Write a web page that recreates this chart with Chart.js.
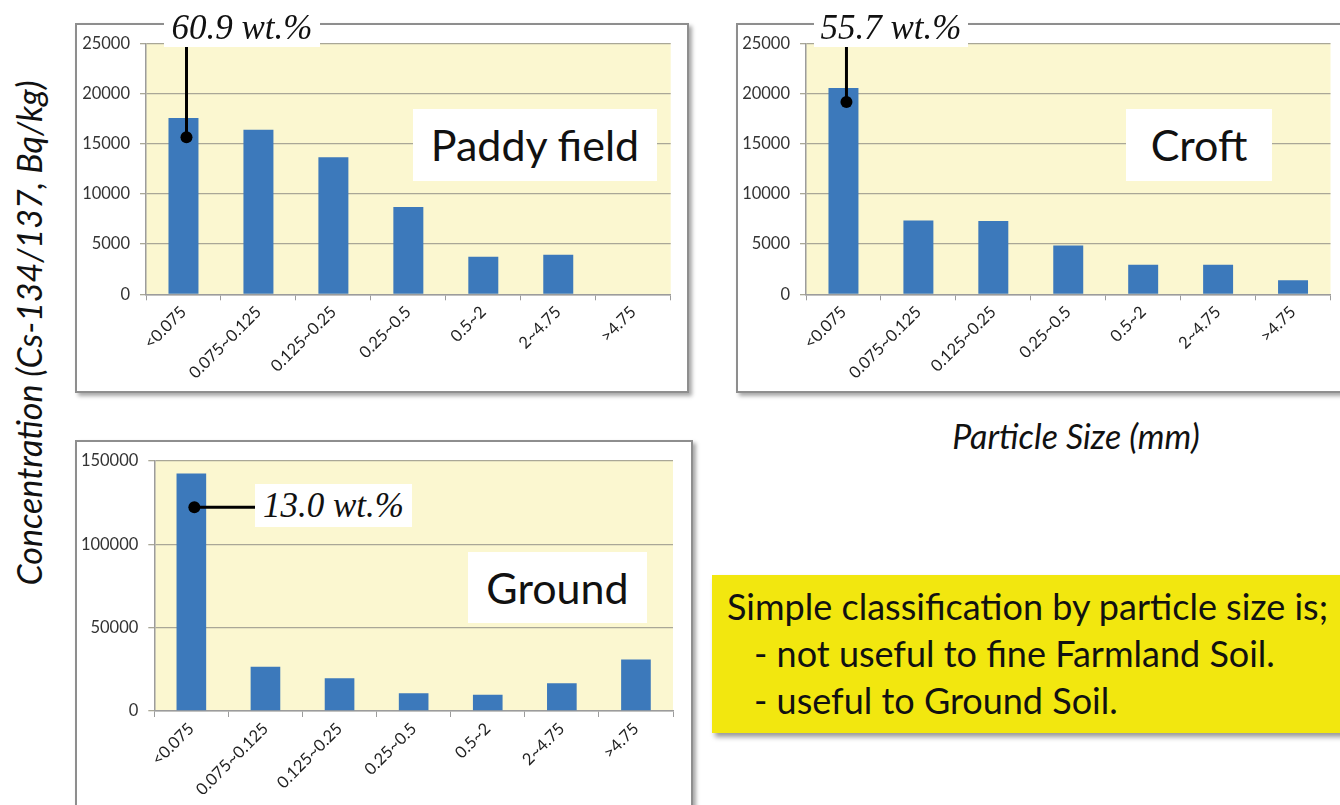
<!DOCTYPE html>
<html>
<head>
<meta charset="utf-8">
<script src="https://cdn.jsdelivr.net/npm/chart.js@4.4.1/dist/chart.umd.min.js"></script>
<style>
    body { margin: 0; background: #fff; }
    #page { position: relative; width: 1340px; height: 805px; overflow: hidden; background: #fff; font-family: Lato, sans-serif; }
    .frame { position: absolute; border: 2px solid #8e8e8e; box-shadow: 3px 3px 4px rgba(0,0,0,0.35); background: #fff; box-sizing: border-box; }
    canvas { position: absolute; }
    .tag { position: absolute; background: #fff; font-size: 43px; color: #111; text-align: center; height: 72px; line-height: 72px; }
    .wt { position: absolute; background: #fff; font-family: "Liberation Serif", serif; font-style: italic; font-size: 35px; color: #111; text-align: center; line-height: 38px; }
    #ytitle { position: absolute; left: 28px; top: 333px; transform: translate(-50%, -50%) rotate(-90deg); white-space: nowrap; font-style: italic; font-size: 34px; color: #111; }
    #xtitle { position: absolute; left: 1076px; top: 435px; transform: translate(-50%, -50%); white-space: nowrap; font-style: italic; font-size: 34px; color: #111; }
    #note { position: absolute; left: 712px; top: 575px; width: 660px; height: 158px; background: #f2e70f; box-shadow: 3px 4px 5px rgba(0,0,0,0.4); font-size: 36px; line-height: 47px; color: #111; padding: 8px 0 0 15px; box-sizing: border-box; white-space: nowrap; }
    #note .ind { padding-left: 27px; }
</style>
</head>
<body>
<div id="page">
    <div class="frame" style="left:75px;top:23px;width:614px;height:370px;"></div>
    <div class="frame" style="left:736px;top:23px;width:640px;height:370px;"></div>
    <div class="frame" style="left:75px;top:440px;width:618px;height:420px;"></div>

    <canvas id="paddyChart" width="614" height="392" style="left:75px;top:0px;"></canvas>
    <canvas id="croftChart" width="603" height="392" style="left:737px;top:0px;"></canvas>
    <canvas id="groundChart" width="617" height="364" style="left:75px;top:441px;"></canvas>

    <div class="wt" style="left:164px;top:9px;width:156px;height:38px;" id="wtPaddy"></div>
    <div class="wt" style="left:814px;top:9px;width:154px;height:38px;" id="wtCroft"></div>
    <div class="wt" style="left:255px;top:484px;width:157px;height:43px;line-height:43px;" id="wtGround"></div>

    <div class="tag" style="left:413px;top:109px;width:244px;">Paddy field</div>
    <div class="tag" style="left:1126px;top:109px;width:146px;">Croft</div>
    <div class="tag" style="left:468px;top:552px;width:179px;height:71px;line-height:71px;">Ground</div>

    <div id="ytitle">Concentration (Cs-134/137, Bq/kg)</div>
    <div id="xtitle">Particle Size (mm)</div>

    <div id="note">
        Simple classification by particle size is;<br>
        <span class="ind">- not useful to fine Farmland Soil.</span><br>
        <span class="ind">- useful to Ground Soil.</span>
    </div>
</div>

<script>
// particle size classes (mm)
const sizeClasses = ['<0.075', '0.075~0.125', '0.125~0.25', '0.25~0.5', '0.5~2', '2~4.75', '>4.75'];

// Cs-134/137 concentration, Bq/kg
const paddyValues  = [17550, 16400, 13650, 8700, 3750, 3950, 0];
const croftValues  = [20550, 7350, 7300, 4850, 2950, 2950, 1400];
const groundValues = [142500, 26500, 19700, 10700, 9700, 16700, 30900];

// y axis ticks
const farmTicks   = [0, 5000, 10000, 15000, 20000, 25000];
const groundTicks = [0, 50000, 100000, 150000];

// weight share of the finest fraction
const shareLabels = ['60.9 wt.%', '55.7 wt.%', '13.0 wt.%'];

document.getElementById('wtPaddy').innerText = shareLabels[0];
document.getElementById('wtCroft').innerText = shareLabels[1];
document.getElementById('wtGround').innerText = shareLabels[2];

const BAR_BLUE = '#3c79bb';
const PLOT_BG = '#fbf7d0';
const GRID = '#a9a797';
const AXIS = '#9c9c9c';

// pale yellow plot area like the spreadsheet charts
const plotFill = {
    id: 'plotFill',
    beforeDraw(chart, args, opts) {
        const { ctx, chartArea: a } = chart;
        ctx.save();
        ctx.fillStyle = opts.color;
        ctx.fillRect(a.left, a.top, a.right - a.left, a.bottom - a.top);
        ctx.restore();
    }
};

// black dot on the first bar with a line to its wt.% label
const leader = {
    id: 'leader',
    afterDatasetsDraw(chart, args, o) {
        if (!o || o.at === undefined) return;
        const ctx = chart.ctx;
        const x = chart.scales.x.getPixelForValue(0) + 3;
        const y = chart.scales.y.getPixelForValue(o.at);
        ctx.save();
        ctx.strokeStyle = '#000';
        ctx.lineWidth = 3;
        ctx.beginPath();
        ctx.moveTo(x, y);
        if (o.dir === 'up') ctx.lineTo(x, o.to);
        else ctx.lineTo(o.to, y);
        ctx.stroke();
        ctx.fillStyle = '#000';
        ctx.beginPath();
        ctx.arc(x, y, 6, 0, Math.PI * 2);
        ctx.fill();
        ctx.restore();
    }
};

function makePanel(id, values, ticks, dims, note) {
    const ctx = document.getElementById(id).getContext('2d');
    return new Chart(ctx, {
        type: 'bar',
        data: {
            labels: sizeClasses,
            datasets: [{
                data: values,
                backgroundColor: BAR_BLUE,
                borderWidth: 0,
                barPercentage: 0.4,
                categoryPercentage: 1.0
            }]
        },
        options: {
            responsive: false,
            animation: false,
            layout: { padding: { top: dims.top, right: dims.right, left: 0, bottom: 0 } },
            plugins: {
                legend: { display: false },
                tooltip: { enabled: false },
                plotFill: { color: PLOT_BG },
                leader: note
            },
            scales: {
                x: {
                    afterFit(s) { s.height = dims.xh; },
                    grid: { display: true, drawOnChartArea: false, offset: true, tickLength: 6, color: AXIS },
                    border: { color: AXIS, width: 1.5 },
                    ticks: {
                        maxRotation: 45, minRotation: 45, autoSkip: false, padding: 2,
                        color: '#222', font: { family: 'Lato', size: 16.5 }
                    }
                },
                y: {
                    min: ticks[0],
                    max: ticks[ticks.length - 1],
                    afterFit(s) { s.width = dims.yw; },
                    afterBuildTicks(s) { s.ticks = ticks.map(v => ({ value: v })); },
                    grid: { color: GRID, lineWidth: 1.3, tickLength: 6 },
                    border: { color: AXIS, width: 1.5 },
                    ticks: {
                        padding: 10, color: '#333', font: { family: 'Lato', size: 16.5 },
                        callback: v => String(v)
                    }
                }
            }
        },
        plugins: [plotFill, leader]
    });
}

makePanel('paddyChart', paddyValues, farmTicks,
    { top: 43.3, right: 18.3, yw: 71, xh: 97.7 },
    { at: 15650, dir: 'up', to: 42 });
makePanel('croftChart', croftValues, farmTicks,
    { top: 43.3, right: 9.5, yw: 69, xh: 97.7 },
    { at: 19150, dir: 'up', to: 42 });
makePanel('groundChart', groundValues, groundTicks,
    { top: 18.3, right: 19, yw: 79.3, xh: 94 },
    { at: 122200, dir: 'right', to: 185 });
</script>
</body>
</html>
